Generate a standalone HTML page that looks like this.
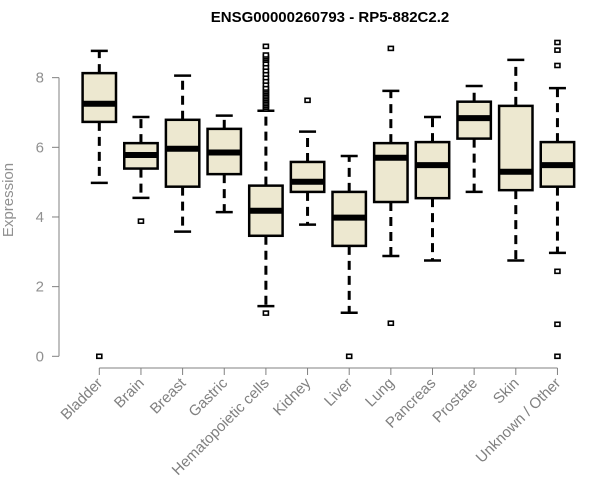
<!DOCTYPE html>
<html><head><meta charset="utf-8"><style>
body{margin:0;background:#fff;}
svg{display:block;font-family:"Liberation Sans",Arial,sans-serif;}
</style></head><body>
<svg id="chart" width="600" height="500">
<text x="330" y="22" text-anchor="middle" font-weight="bold" font-size="15">ENSG00000260793 - RP5-882C2.2</text>
<text transform="translate(13,200) rotate(-90)" text-anchor="middle" font-size="15" fill="#909090">Expression</text>
<g id="axes"></g><g id="boxes"></g>
</svg>
<script>
const categories=["Bladder","Brain","Breast","Gastric","Hematopoietic cells","Kidney","Liver","Lung","Pancreas","Prostate","Skin","Unknown / Other"];
const lowWhisker=[4.98,4.55,3.58,4.14,1.44,3.78,1.25,2.88,2.75,4.72,2.75,2.97];
const q1=[6.73,5.39,4.87,5.23,3.46,4.72,3.17,4.43,4.54,6.25,4.77,4.87];
const medians=[7.25,5.78,5.96,5.85,4.18,5.01,3.98,5.70,5.49,6.84,5.30,5.49];
const q3=[8.13,6.12,6.79,6.53,4.90,5.58,4.72,6.12,6.15,7.31,7.19,6.15];
const highWhisker=[8.77,6.87,8.06,6.91,7.05,6.45,5.75,7.62,6.87,7.76,8.51,7.70];
const outliers=[[0],[3.88],[],[],[1.24,7.1,7.15,7.2,7.25,7.3,7.35,7.4,7.45,7.5,7.55,7.6,7.65,7.7,7.8,7.9,8.0,8.1,8.2,8.3,8.4,8.5,8.55,8.6,8.65,8.9],[7.35],[0],[8.84,0.95],[],[],[],[9.01,8.79,8.35,2.44,0.92,0]];
const yTicks=[0,2,4,6,8];
const NS="http://www.w3.org/2000/svg";
function y(v){return 356.3-v*34.83;}
function x(i){return 99.3+i*41.65;}
function mk(parent,tag,attrs){const e=document.createElementNS(NS,tag);for(const k in attrs)e.setAttribute(k,attrs[k]);parent.appendChild(e);return e;}
const axes=document.getElementById('axes'),boxes=document.getElementById('boxes');
let ya=mk(axes,'line',{x1:59,x2:59,y1:y(0),y2:y(8),stroke:'#808080'});


yTicks.forEach(t=>{
 let l=mk(axes,'line',{x1:52,x2:59,y1:y(t),y2:y(t),stroke:'#808080'});
 
 
 let tx=mk(axes,'text',{x:44,y:y(t)+5,'text-anchor':'end','font-size':15,fill:'#909090'});
 tx.textContent=t;
 
 
});
let xa=mk(axes,'line',{x1:x(0),x2:x(categories.length-1),y1:368,y2:368,stroke:'#808080'});


categories.forEach((c,i)=>{
 const cx=x(i),hw=16.7;
 let t=mk(axes,'line',{x1:cx,x2:cx,y1:368,y2:375,stroke:'#808080'});
 
 
 let lb=mk(axes,'text',{transform:`translate(${cx+4},${384}) rotate(-45)`,'text-anchor':'end','font-size':15,fill:'#808080'});
 lb.textContent=c;
 
 
 const g=mk(boxes,'g',{});
 
 
 mk(g,'line',{x1:cx,x2:cx,y1:y(q3[i]),y2:y(highWhisker[i]),stroke:'#000','stroke-width':3,'stroke-dasharray':'9,6'});
 mk(g,'line',{x1:cx,x2:cx,y1:y(q1[i]),y2:y(lowWhisker[i]),stroke:'#000','stroke-width':3,'stroke-dasharray':'9,6'});
 mk(g,'line',{x1:cx-8.5,x2:cx+8.5,y1:y(highWhisker[i]),y2:y(highWhisker[i]),stroke:'#000','stroke-width':2.5});
 mk(g,'line',{x1:cx-8.5,x2:cx+8.5,y1:y(lowWhisker[i]),y2:y(lowWhisker[i]),stroke:'#000','stroke-width':2.5});
 mk(g,'rect',{x:cx-hw,y:y(q3[i]),width:2*hw,height:y(q1[i])-y(q3[i]),fill:'#ede8d0',stroke:'#000','stroke-width':2.5});
 mk(g,'line',{x1:cx-hw,x2:cx+hw,y1:y(medians[i]),y2:y(medians[i]),stroke:'#000','stroke-width':6});
 outliers[i].forEach(o=>{
  let p=mk(g,'rect',{x:cx-2.5,y:y(o)-2,width:5,height:4,fill:'#fff',stroke:'#000','stroke-width':1.6});
  
  
 });
});
</script>
</body></html>
